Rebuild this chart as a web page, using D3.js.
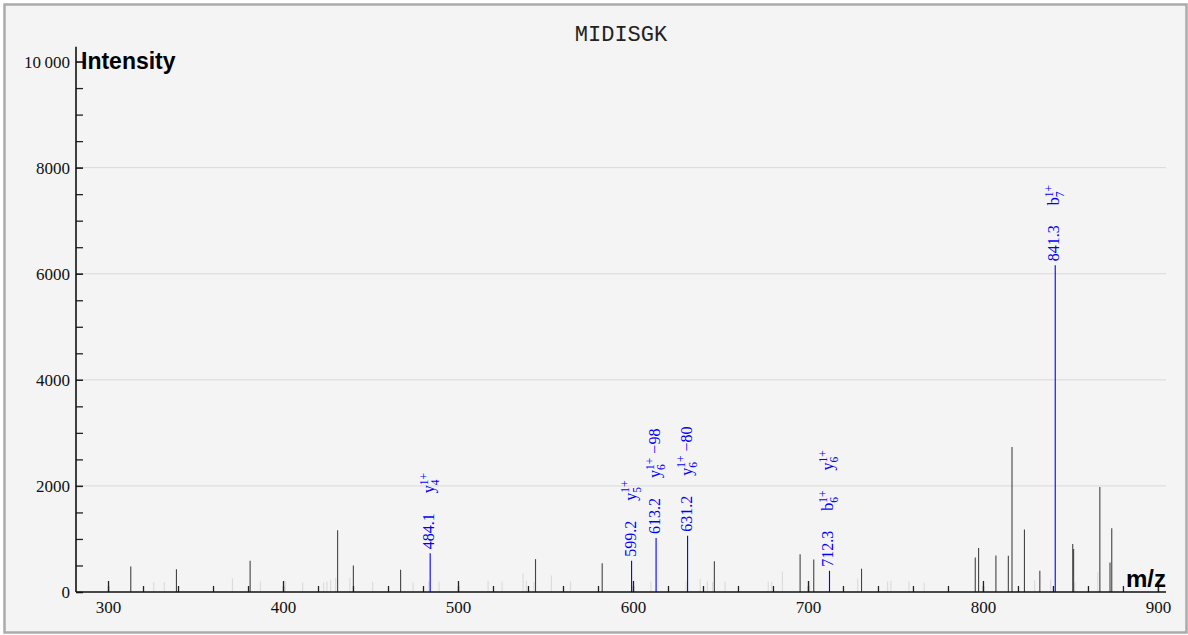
<!DOCTYPE html>
<html><head><meta charset="utf-8">
<script src="https://cdn.jsdelivr.net/npm/d3@7"></script>
<style>body{margin:0;background:#fff;} svg{display:block}</style>
</head><body><svg id="c" width="1188" height="635"></svg>
<script>
const title = "MIDISGK";
// matched-peak background (dark gray)
const peakMz  = [313.0, 339.1, 381.2, 431.2, 440.2, 467.2, 544.3, 582.4, 646.5, 695.5, 703.3, 730.6,
                 795.6, 797.5, 807.4, 814.5, 816.6, 823.7, 832.5, 851.3, 851.8, 866.8, 872.6, 873.6];
const peakInt = [480, 430, 590, 1165, 500, 420, 620, 540, 580, 710, 615, 440,
                 650, 830, 690, 685, 2735, 1180, 400, 905, 810, 1980, 555, 1200];
// faint peaks (light gray)
const faintMz  = [326.1, 332.2, 371.1, 387.1, 401.3, 411.2, 423.2, 425.1, 427.2, 430.1, 438.2, 451.2,
                  474.3, 483.3, 489.2, 517.2, 525.2, 537.2, 539.1, 543.4, 553.4, 564.3, 610.2, 630.4,
                  638.4, 642.5, 645.5, 652.6, 677.3, 679.3, 685.4, 701.0, 728.4, 745.5, 747.4, 757.7,
                  766.4, 829.5, 838.7, 852.5, 865.6];
const faintInt = [182, 182, 260, 200, 200, 180, 180, 200, 230, 270, 270, 195,
                  180, 205, 200, 210, 200, 350, 210, 190, 310, 200, 200, 200,
                  245, 200, 190, 195, 200, 195, 385, 215, 255, 200, 210, 200,
                  178, 220, 235, 185, 370];
// annotated peaks
const annMz    = [484.1, 599.2, 613.2, 631.2, 712.3, 841.3];
const annInt   = [730, 590, 1020, 1060, 400, 6160];
const annText  = ["484.1", "599.2", "613.2", "631.2", "712.3", "841.3"];
// ion labels: [ion, subscript, charge, loss]
const annIons  = [
  [["y", "4", "1+", ""]],
  [["y", "5", "1+", ""]],
  [["y", "6", "1+", "\u221298"]],
  [["y", "6", "1+", "\u221280"]],
  [["b", "6", "1+", ""], ["y", "6", "1+", ""]],
  [["b", "7", "1+", ""]]
];
const xMajor = [300, 400, 500, 600, 700, 800, 900];
const xMinor = d3.range(300, 901, 20);
const yMajor = [0, 2000, 4000, 6000, 8000, 10000];
const yLabels = ["0", "2000", "4000", "6000", "8000", "10\u2009000"];
const yMinor = d3.range(0, 10001, 500);
const yGrid = [2000, 4000, 6000, 8000];

const svg = d3.select("#c");
const x = d3.scaleLinear().domain([281.7, 904.6]).range([76, 1166]);
const y = d3.scaleLinear().domain([0, 10280]).range([592, 46.7]);

svg.append("rect").attr("x", 4.5).attr("y", 4.5).attr("width", 1182).attr("height", 628)
  .attr("fill", "#f4f4f4").attr("stroke", "#ababab").attr("stroke-width", 2.5);

svg.append("text").attr("x", 621).attr("y", 41).attr("text-anchor", "middle")
  .attr("font-family", "'Liberation Mono', monospace").attr("font-size", 22).attr("fill", "#222")
  .text(title);

// grid
svg.append("g").selectAll("line").data(yGrid).join("line")
  .attr("x1", 76).attr("x2", 1166).attr("y1", d => y(d)).attr("y2", d => y(d))
  .attr("stroke", "#d9d9d9").attr("stroke-width", 1);

// peaks
const base = y(0);
svg.append("g").selectAll("line").data(faintMz).join("line")
  .attr("x1", d => x(d)).attr("x2", d => x(d)).attr("y1", base).attr("y2", (d, i) => y(faintInt[i]))
  .attr("stroke", "#dcdcdc").attr("stroke-width", 1.2);
svg.append("g").selectAll("line").data(peakMz).join("line")
  .attr("x1", d => x(d)).attr("x2", d => x(d)).attr("y1", base).attr("y2", (d, i) => y(peakInt[i]))
  .attr("stroke", "#444").attr("stroke-width", 1.1);
svg.append("g").selectAll("line").data(annMz).join("line")
  .attr("x1", d => x(d)).attr("x2", d => x(d)).attr("y1", base).attr("y2", (d, i) => y(annInt[i]))
  .attr("stroke", "#0000ff").attr("stroke-width", 1.1);

// axes
const axFont = "'Liberation Serif', 'Times New Roman', serif";
const gx = svg.append("g").attr("transform", `translate(0,${base})`)
  .call(d3.axisBottom(x).tickValues(xMajor).tickSizeInner(-11).tickSizeOuter(0).tickPadding(9).tickFormat(d3.format("d")));
const gxm = svg.append("g").attr("transform", `translate(0,${base})`)
  .call(d3.axisBottom(x).tickValues(xMinor).tickSizeInner(-6).tickSizeOuter(0).tickFormat(""));
const gy = svg.append("g").attr("transform", `translate(76,0)`)
  .call(d3.axisLeft(y).tickValues(yMajor).tickSizeInner(-7).tickSizeOuter(0).tickPadding(6)
    .tickFormat((d, i) => yLabels[i]));
const gym = svg.append("g").attr("transform", `translate(76,0)`)
  .call(d3.axisLeft(y).tickValues(yMinor).tickSizeInner(-7).tickSizeOuter(0).tickFormat(""));
[gx, gxm, gy, gym].forEach(g => {
  g.select(".domain").remove();
  g.selectAll(".tick line").attr("stroke", "#222").attr("stroke-width", 1.3);
  g.selectAll("text").attr("font-family", axFont).attr("font-size", 17).attr("fill", "#111");
});
svg.append("line").attr("x1", 76).attr("x2", 1166).attr("y1", base).attr("y2", base)
  .attr("stroke", "#111").attr("stroke-width", 1.6);
svg.append("line").attr("x1", 76).attr("x2", 76).attr("y1", y.range()[1]).attr("y2", base)
  .attr("stroke", "#111").attr("stroke-width", 1.6);

svg.append("text").attr("x", 81).attr("y", 68.5)
  .attr("font-family", "'Liberation Sans', Arial, sans-serif").attr("font-weight", "bold")
  .attr("font-size", 23).attr("fill", "#000").text("Intensity");
svg.append("text").attr("x", 1166).attr("y", 587).attr("text-anchor", "end")
  .attr("font-family", "'Liberation Sans', Arial, sans-serif").attr("font-weight", "bold")
  .attr("font-size", 24).attr("fill", "#000").text("m/z");

// annotations
annMz.forEach((mz, i) => {
  const g = svg.append("g")
    .attr("transform", `translate(${x(mz) + 4},${y(annInt[i]) - 4}) rotate(-90)`)
    .attr("font-family", axFont).attr("fill", "#0000ff");
  const t = g.append("text").attr("x", 0).attr("y", 0).attr("font-size", 16).text(annText[i]);
  let cur = t.node().getComputedTextLength() + 20;
  annIons[i].forEach(([ion, sub, chg, loss]) => {
    const a = g.append("text").attr("x", cur).attr("y", 0).attr("font-size", 16).text(ion);
    cur += a.node().getComputedTextLength();
    const sp = g.append("text").attr("x", cur).attr("y", -6.5).attr("font-size", 11.5).text(chg);
    const sb = g.append("text").attr("x", cur).attr("y", 5).attr("font-size", 11.5).text(sub);
    cur += Math.max(sp.node().getComputedTextLength(), sb.node().getComputedTextLength());
    if (loss) {
      cur += 4;
      const l = g.append("text").attr("x", cur).attr("y", 0).attr("font-size", 16).text(loss);
      cur += l.node().getComputedTextLength();
    }
    cur += 20;
  });
});
</script></body></html>
